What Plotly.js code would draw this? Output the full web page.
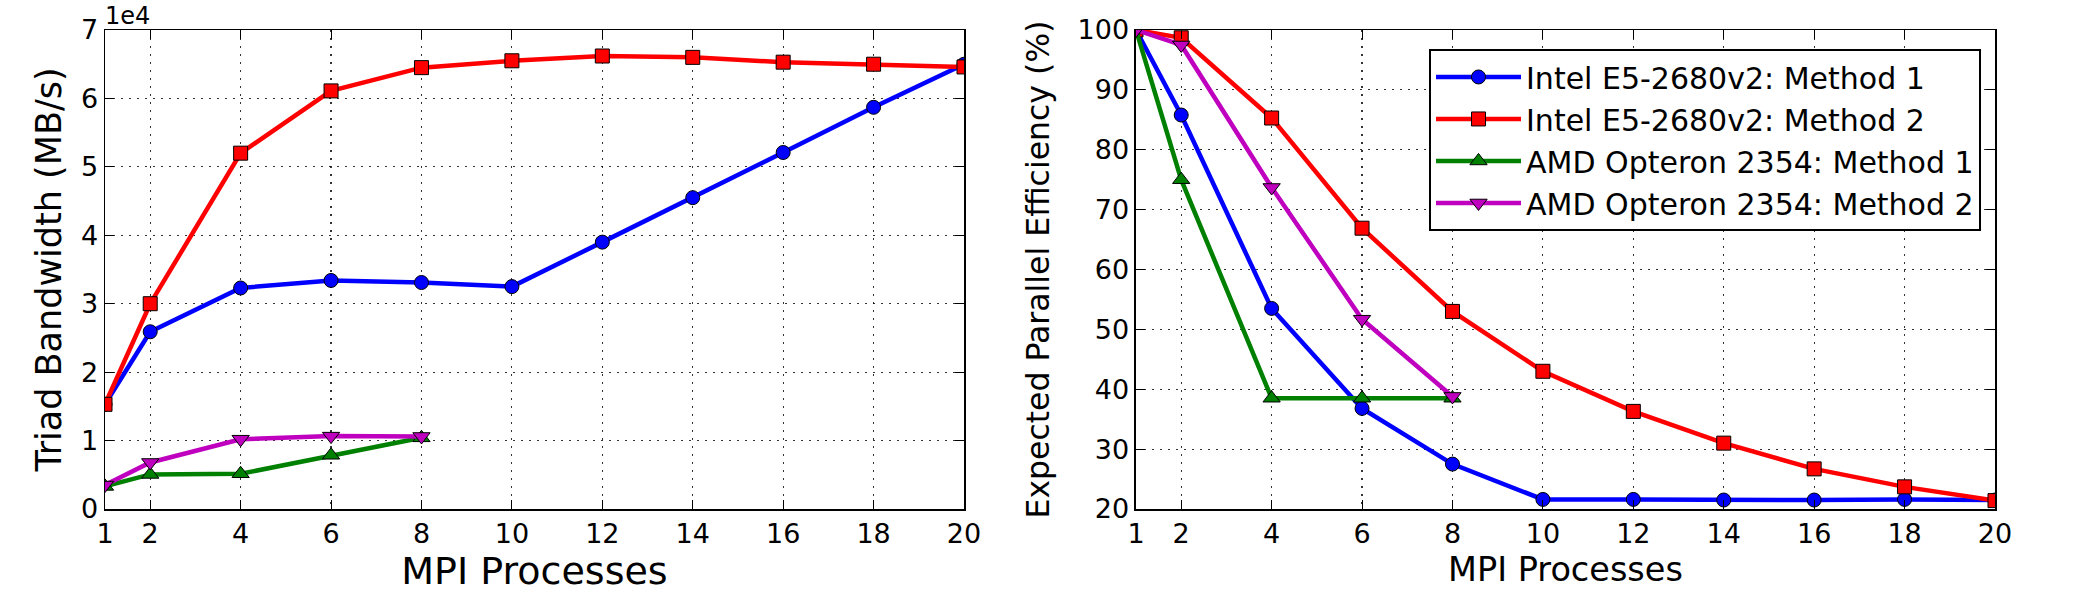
<!DOCTYPE html>
<html>
<head>
<meta charset="utf-8">
<script src="https://cdn.plot.ly/plotly-3.0.1.min.js"></script>
<style>
  html, body { margin: 0; padding: 0; background: #fff; }
  #chart { width: 2100px; height: 600px; }
</style>
</head>
<body>
<div id="chart"></div>
<script>
// MPI process counts
const procsIntel = [1, 2, 4, 6, 8, 10, 12, 14, 16, 18, 20];
const procsAmd = [1, 2, 4, 6, 8];
const xTicks = [1, 2, 4, 6, 8, 10, 12, 14, 16, 18, 20];

// Triad bandwidth (MB/s)
const bwIntelM1 = [15300, 25900, 32300, 33400, 33100, 32500, 39000, 45500, 52100, 58700, 65000];
const bwIntelM2 = [15300, 30000, 52000, 61100, 64500, 65500, 66200, 66000, 65300, 65000, 64600];
const bwAmdM1 = [3300, 5050, 5150, 7850, 10400];
const bwAmdM2 = [3500, 6800, 10200, 10650, 10600];

// Expected parallel efficiency (%)
const effIntelM1 = [100, 85.8, 53.5, 36.8, 27.5, 21.6, 21.6, 21.5, 21.5, 21.6, 21.5];
const effIntelM2 = [100, 98.7, 85.3, 66.9, 53.0, 43.0, 36.3, 31.0, 26.7, 23.7, 21.4];
const effAmdM1 = [100, 75.0, 38.5, 38.5, 38.5];
const effAmdM2 = [100, 97.5, 73.7, 51.7, 38.8];

// Bandwidth axis ticks, labelled in units of 1e4
const bwTickVals = [0, 10000, 20000, 30000, 40000, 50000, 60000, 70000];
const bwTickText = ['0', '1', '2', '3', '4', '5', '6', '7'];
const effTickVals = [20, 30, 40, 50, 60, 70, 80, 90, 100];

const seriesNames = [
  'Intel E5-2680v2: Method 1',
  'Intel E5-2680v2: Method 2',
  'AMD Opteron 2354: Method 1',
  'AMD Opteron 2354: Method 2'
];
const colors = ['#0000ff', '#ff0000', '#008000', '#bf00bf'];
const symbols = ['circle', 'square', 'triangle-up', 'triangle-down'];
const sizes = [14, 14, 15, 15];

const font = 'DejaVu Sans, Liberation Sans, sans-serif';

function series(i, x, y, xa, ya, legend) {
  return {
    type: 'scatter', mode: 'lines+markers',
    x: x, y: y, xaxis: xa, yaxis: ya,
    name: seriesNames[i], legendgroup: 'g' + i, showlegend: legend,
    line: { color: colors[i], width: 4.5 },
    marker: { symbol: symbols[i], size: sizes[i], color: colors[i],
              line: { color: '#000', width: 1 } }
  };
}

const data = [
  series(0, procsIntel, bwIntelM1, 'x', 'y', false),
  series(1, procsIntel, bwIntelM2, 'x', 'y', false),
  series(2, procsAmd, bwAmdM1, 'x', 'y', false),
  series(3, procsAmd, bwAmdM2, 'x', 'y', false),
  series(0, procsIntel, effIntelM1, 'x2', 'y2', true),
  series(1, procsIntel, effIntelM2, 'x2', 'y2', true),
  series(2, procsAmd, effAmdM1, 'x2', 'y2', true),
  series(3, procsAmd, effAmdM2, 'x2', 'y2', true)
];

const axisCommon = {
  showline: true, linecolor: '#000', linewidth: 1.5, mirror: 'allticks',
  ticks: 'inside', ticklen: 9, tickwidth: 1, tickcolor: '#000',
  showgrid: true, gridcolor: 'rgba(0,0,0,0.8)', gridwidth: 1.2, griddash: '2px,6px',
  zeroline: false, tickfont: { family: font, size: 27, color: '#000' }
};

const xCommon = Object.assign({}, axisCommon, {
  range: [1, 20], tickmode: 'array', tickvals: xTicks, automargin: true
});

const layout = {
  width: 2100, height: 600,
  margin: { l: 105, r: 105, t: 30, b: 91 },
  paper_bgcolor: '#fff', plot_bgcolor: '#fff',
  font: { family: font, color: '#000' },
  xaxis: Object.assign({}, xCommon, {
    domain: [0, 0.4545], anchor: 'y',
    title: { text: 'MPI Processes', font: { family: font, size: 38, color: '#000' }, standoff: 6 }
  }),
  xaxis2: Object.assign({}, xCommon, {
    domain: [0.5455, 1], anchor: 'y2',
    title: { text: 'MPI Processes', font: { family: font, size: 33.5, color: '#000' }, standoff: 9 }
  }),
  yaxis: Object.assign({}, axisCommon, {
    domain: [0, 1], anchor: 'x', range: [0, 70000], automargin: true,
    tickmode: 'array', tickvals: bwTickVals, ticktext: bwTickText,
    title: { text: 'Triad Bandwidth (MB/s)', font: { family: font, size: 35, color: '#000' }, standoff: 8 }
  }),
  yaxis2: Object.assign({}, axisCommon, {
    domain: [0, 1], anchor: 'x2', range: [20, 100], automargin: true,
    tickmode: 'array', tickvals: effTickVals,
    title: { text: 'Expected Parallel Efficiency (%)', font: { family: font, size: 31.5, color: '#000' }, standoff: 18 }
  }),
  legend: {
    x: 0.9926, xanchor: 'right', y: 0.9604, yanchor: 'top',
    bgcolor: '#fff', bordercolor: '#000', borderwidth: 2,
    font: { family: font, size: 30, color: '#000' },
    itemwidth: 85, tracegroupgap: 0
  },
  annotations: [{
    xref: 'paper', yref: 'paper', x: 0, y: 1, xanchor: 'left', yanchor: 'bottom',
    xshift: -2, yshift: -2, showarrow: false, text: '1e4',
    font: { family: font, size: 24, color: '#000' }
  }],
  showlegend: true
};

Plotly.newPlot('chart', data, layout, { displayModeBar: false, staticPlot: true });
</script>
</body>
</html>
